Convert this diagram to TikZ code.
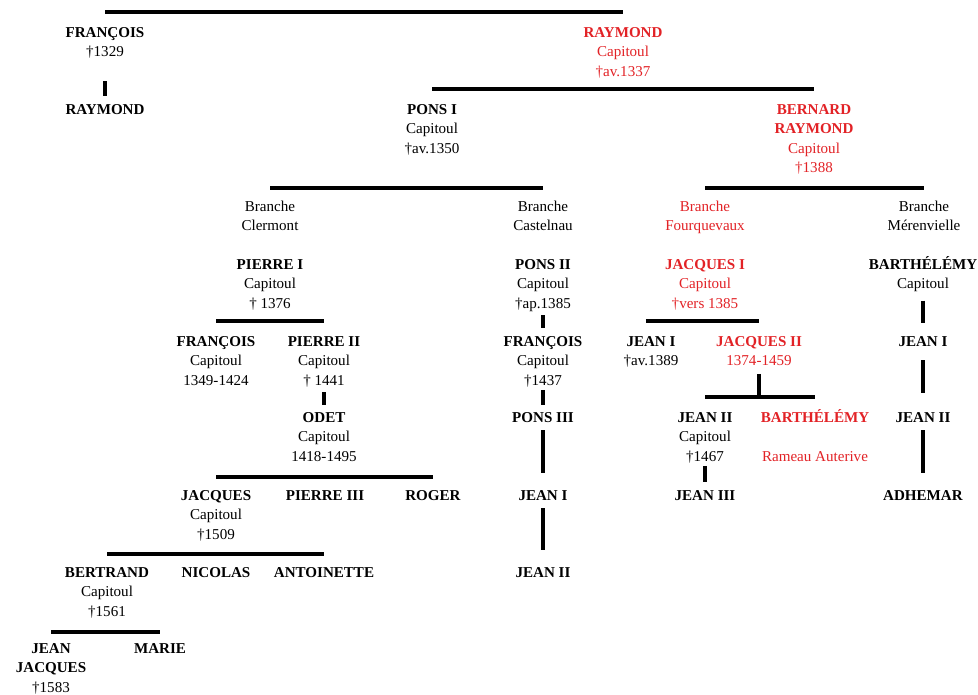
\documentclass[tikz,border=0pt]{standalone}
\usepackage{fontspec}
\setmainfont{Liberation Serif}
\definecolor{famred}{RGB}{226,34,38}
\begin{document}
\begin{tikzpicture}[x=0.75pt, y=-0.75pt,
	every node/.style={inner sep=0pt, align=center, anchor=base, font=\fontsize{11.3}{14.6}\selectfont},
	redname/.style={text=famred},
	bar/.style={line width=2.8pt},
	link/.style={line width=2.8pt}]
		\useasboundingbox (0,0) rectangle (978,694);
		% Place nodes (at the baseline of their last line)
		\node (fran0) at (105,56.5) {\textbf{FRANÇOIS}\\†1329};
		\node (raym0) at (105,114) {\textbf{RAYMOND}};
		\node [redname] (raym1) at (623,76) {\textbf{RAYMOND}\\Capitoul\\†av.1337};
		\node (pons1) at (432,153) {\textbf{PONS I}\\Capitoul\\†av.1350};
		\node [redname] (bern) at (814,172.5) {\textbf{BERNARD}\\\textbf{RAYMOND}\\Capitoul\\†1388};
		
		\node (clerm) at (270,230.5) {Branche\\Clermont};
		\node (caste) at (543,230.5) {Branche\\Castelnau};
		\node [redname] (fourq) at (705,230.5) {Branche\\Fourquevaux};
		\node (meren) at (924,230.5) {Branche\\Mérenvielle};
		
		\node (pier1) at (270,308) {\textbf{PIERRE I}\\Capitoul\\† 1376};
		\node (pons2) at (543,308) {\textbf{PONS II}\\Capitoul\\†ap.1385};
		\node [redname] (jacq1) at (705,308) {\textbf{JACQUES I}\\Capitoul\\†vers 1385};
		\node (barth1) at (923,288.5) {\textbf{BARTHÉLÉMY}\\Capitoul};
		
		\node (fran2) at (216,385) {\textbf{FRANÇOIS}\\Capitoul\\1349-1424};
		\node (pier2) at (324,385) {\textbf{PIERRE II}\\Capitoul\\† 1441};
		\node (fran3) at (543,385) {\textbf{FRANÇOIS}\\Capitoul\\†1437};
		\node (jean1f) at (651,365.5) {\textbf{JEAN I}\\†av.1389};
		\node [redname] (jacq2) at (759,365.5) {\textbf{JACQUES II}\\1374-1459};
		\node (jean1m) at (923,346) {\textbf{JEAN I}};
		
		\node (odet) at (324,461) {\textbf{ODET}\\Capitoul\\1418-1495};
		\node (pons3) at (543,422) {\textbf{PONS III}};
		\node (jean2f) at (705,461) {\textbf{JEAN II}\\Capitoul\\†1467};
		\node [redname] (barth2) at (815,461) {\textbf{BARTHÉLÉMY}\\[14.6pt]Rameau Auterive};
		\node (jean2m) at (923,422) {\textbf{JEAN II}};
		
		\node (jacq) at (216,539) {\textbf{JACQUES}\\Capitoul\\†1509};
		\node (pier3) at (325,500) {\textbf{PIERRE III}};
		\node (roger) at (433,500) {\textbf{ROGER}};
		\node (jean1c) at (543,500) {\textbf{JEAN I}};
		\node (jean3) at (705,500) {\textbf{JEAN III}};
		\node (adhem) at (923,500) {\textbf{ADHEMAR}};
		
		\node (bert) at (107,616) {\textbf{BERTRAND}\\Capitoul\\†1561};
		\node (nico) at (216,577) {\textbf{NICOLAS}};
		\node (antoi) at (324,577) {\textbf{ANTOINETTE}};
		\node (jean2c) at (543,577) {\textbf{JEAN II}};
		
		\node (jeanj) at (51,692) {\textbf{JEAN}\\\textbf{JACQUES}\\†1583};
		\node (marie) at (160,653) {\textbf{MARIE}};
		
		% Levels of the sibling bars
		\coordinate (lv0) at (0,12);
		\coordinate (lv1) at (0,89);
		\coordinate (lv2) at (0,188);
		\coordinate (lv3) at (0,321);
		\coordinate (lv4) at (0,397);
		\coordinate (lv5) at (0,477);
		\coordinate (lv6) at (0,554);
		\coordinate (lv7) at (0,632);
		
		% Draw bars
		\draw [bar] (fran0 |- lv0) -- (raym1 |- lv0);
		\draw [bar] (pons1 |- lv1) -- (bern |- lv1);
		\draw [bar] (clerm |- lv2) -- (caste |- lv2);
		\draw [bar] (fourq |- lv2) -- (meren |- lv2);
		\draw [bar] (fran2 |- lv3) -- (pier2 |- lv3);
		\draw [bar] ([xshift=-3.8pt]jean1f |- lv3) -- (jacq2 |- lv3);
		\draw [bar] (jean2f |- lv4) -- (barth2 |- lv4);
		\draw [bar] (jacq |- lv5) -- (roger |- lv5);
		\draw [bar] (bert |- lv6) -- (antoi |- lv6);
		\draw [bar] (jeanj |- lv7) -- (marie |- lv7);
		
		% Draw links
		\draw [link, shorten <=17.2pt, shorten >=6pt] (fran0.south) -- (raym0.north);
		\draw [link, shorten <=3.8pt, shorten >=5.2pt] (pier2.south) -- (odet.north);
		\draw [link, shorten <=2.8pt, shorten >=6pt] (pons2.south) -- (fran3.north);
		\draw [link, shorten <=2.2pt, shorten >=5.2pt] (fran3.south) -- (pons3.north);
		\draw [link, shorten <=6pt, shorten >=12.8pt] (pons3.south) -- (jean1c.north);
		\draw [link, shorten <=6pt, shorten >=12.8pt] (jean1c.south) -- (jean2c.north);
		\draw [link, shorten <=6pt] (jacq2.south) -- (jacq2 |- lv4);
		\draw [link, shorten <=2.2pt, shorten >=6pt] (jean2f.south) -- (jean3.north);
		\draw [link, shorten <=6.5pt, shorten >=9.8pt] (barth1.south) -- (jean1m.north);
		\draw [link, shorten <=10.5pt, shorten >=14.2pt] (jean1m.south) -- (jean2m.north);
		\draw [link, shorten <=6pt, shorten >=12.8pt] (jean2m.south) -- (adhem.north);
	\end{tikzpicture}
\end{document}
